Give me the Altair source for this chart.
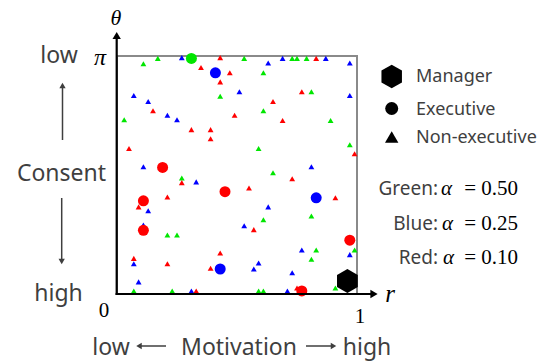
import math
import altair as alt
import pandas as pd

# ---- agents: r = motivation (0..1), theta = consent angle (0..pi) ----
# Non-executives (triangles)
green_tri_r = [0.11, 0.17, 0.43, 0.03, 0.53, 0.73, 0.75, 0.79, 0.61, 0.81,
               0.61, 0.89, 0.59, 0.97, 0.65, 0.27, 0.21, 0.25, 0.07, 0.23,
               0.61, 0.81, 0.99, 0.83, 0.81, 0.91, 0.59, 0.61]
green_tri_theta = [3.04, 3.11, 2.61, 2.30, 3.11, 3.11, 3.11, 3.11, 2.92, 2.67,
                   2.42, 2.29, 1.92, 1.97, 1.60, 1.53, 0.78, 0.78, 0.04, 0.04,
                   0.98, 1.03, 0.58, 0.58, 0.46, 0.08, 0.04, 0.04]

blue_tri_r = [0.27, 0.07, 0.13, 0.21, 0.25, 0.11, 0.63, 0.69, 0.87, 0.97,
              0.51, 0.97, 0.81, 0.33, 0.13, 0.11, 0.07, 0.09, 0.31, 0.63,
              0.53, 0.77, 0.97, 0.59, 0.57, 0.73, 0.71]
blue_tri_theta = [3.12, 2.62, 2.54, 2.36, 2.30, 1.68, 3.05, 3.11, 3.11, 3.05,
                  2.67, 2.62, 1.68, 1.48, 1.10, 0.91, 0.40, 0.16, 0.04, 1.15,
                  0.90, 0.58, 0.52, 0.41, 0.33, 0.28, 0.04]

red_tri_r = [0.43, 0.35, 0.47, 0.43, 0.15, 0.49, 0.31, 0.39, 0.39, 0.05,
             0.83, 0.77, 0.65, 0.69, 0.99, 0.27, 0.21, 0.09, 0.07, 0.21,
             0.43, 0.39, 0.33, 0.73, 0.55, 0.91, 0.57, 0.75]
red_tri_theta = [3.12, 2.99, 2.92, 2.80, 2.42, 2.36, 2.17, 2.17, 2.05, 1.92,
                 3.11, 2.67, 2.54, 2.29, 1.85, 1.47, 1.28, 1.15, 0.47, 0.40,
                 0.54, 0.34, 0.04, 1.52, 1.40, 1.27, 0.85, 0.08]

# Executives (circles)
green_exe_r = [0.31]
green_exe_theta = [3.11]
blue_exe_r = [0.41, 0.43, 0.83]
blue_exe_theta = [2.92, 0.33, 1.27]
red_exe_r = [0.19, 0.45, 0.11, 0.11, 0.97, 0.77]
red_exe_theta = [1.67, 1.35, 1.23, 0.84, 0.71, 0.04]

# Manager (hexagon)
manager_r = [0.96]
manager_theta = [0.17]

GROUPS = ["Green", "Blue", "Red"]
GROUP_COLORS = ["#00e600", "#0000ff", "#ff0000"]
TEXT = "#3f3f3f"
SANS = "Noto Sans"
SERIF = "Liberation Serif"
HEXAGON = "M0,-1L0.866,-0.5L0.866,0.5L0,1L-0.866,0.5L-0.866,-0.5Z"

# plot-area offset inside the page
LEFT, TOP = 117, 56
W, H = 240, 238


def frame(role, parts):
    rows = []
    for group, rs, ts in parts:
        for r, t in zip(rs, ts):
            rows.append({"r": r, "theta": t, "group": group, "role": role})
    return pd.DataFrame(rows)


tri_df = frame("Non-executive", [("Green", green_tri_r, green_tri_theta),
                                 ("Blue", blue_tri_r, blue_tri_theta),
                                 ("Red", red_tri_r, red_tri_theta)])
exe_df = frame("Executive", [("Green", green_exe_r, green_exe_theta),
                             ("Blue", blue_exe_r, blue_exe_theta),
                             ("Red", red_exe_r, red_exe_theta)])
mgr_df = frame("Manager", [("Black", manager_r, manager_theta)])

x_enc = alt.X("r:Q", scale=alt.Scale(domain=[0, 1], nice=False, zero=False), axis=None)
y_enc = alt.Y("theta:Q", scale=alt.Scale(domain=[0, math.pi], nice=False, zero=False), axis=None)
c_enc = alt.Color("group:N", scale=alt.Scale(domain=GROUPS, range=GROUP_COLORS), legend=None)

triangles = alt.Chart(tri_df).mark_point(
    shape="triangle-up", filled=True, size=34, opacity=1, strokeWidth=0
).encode(x=x_enc, y=y_enc, color=c_enc)

circles = alt.Chart(exe_df).mark_circle(size=121, opacity=1).encode(
    x=x_enc, y=y_enc, color=c_enc)

manager = alt.Chart(mgr_df).mark_point(
    shape=HEXAGON, filled=True, size=576, opacity=1, color="black", strokeWidth=0
).encode(x=x_enc, y=y_enc)


def one():
    return alt.Chart(alt.Data(values=[{}]))


def at(px, py):
    # page pixel -> plot-area pixel
    return dict(x=alt.value(px - LEFT), y=alt.value(py - TOP))


def label(txt, px, py, size=22, font=SANS, style="normal", align="center",
          baseline="alphabetic", color=TEXT):
    return one().mark_text(text=txt, font=font, fontSize=size, fontStyle=style,
                           align=align, baseline=baseline, color=color).encode(**at(px, py))


def line(x1, y1, x2, y2, color=TEXT, width=1.5):
    return one().mark_rule(color=color, strokeWidth=width).encode(
        x=alt.value(x1 - LEFT), y=alt.value(y1 - TOP),
        x2=alt.value(x2 - LEFT), y2=alt.value(y2 - TOP))


def head(shape, px, py, size, color=TEXT):
    return one().mark_point(shape=shape, filled=True, size=size, opacity=1,
                            color=color, strokeWidth=0).encode(**at(px, py))


decor = [
    # coordinate axes with arrows
    line(116.7, 295, 116.7, 36, color="black", width=2.2),
    head("triangle-up", 116.7, 35.5, 70, color="black"),
    line(115.6, 294, 372, 294, color="black", width=2.2),
    head("triangle-right", 374, 294, 70, color="black"),
    label("θ", 116, 25, size=22, font=SERIF, style="italic", color="black"),
    label("π", 100, 65, size=24, font=SERIF, style="italic", color="black"),
    label("r", 390, 301.5, size=25, font=SERIF, style="italic", color="black"),
    label("0", 104, 317, size=21, font=SERIF, color="black"),
    label("1", 360, 323, size=21, font=SERIF, color="black"),
    # consent (vertical) description
    label("low", 59, 63, size=23),
    line(62.5, 140, 62.5, 88),
    head("triangle-up", 62.5, 85.5, 40),
    label("Consent", 61.5, 181, size=23),
    line(61.7, 198, 61.7, 259),
    head("triangle-down", 61.7, 261.5, 40),
    label("high", 58.5, 300.5, size=23),
    # motivation (horizontal) description
    label("low", 111, 355, size=23),
    line(166, 346, 141, 346),
    head("triangle-left", 139, 346, 40),
    label("Motivation", 239, 355, size=23),
    line(306, 346, 331, 346),
    head("triangle-right", 333.5, 346, 40),
    label("high", 367, 355, size=23),
    # legend: roles
    head(HEXAGON, 391.7, 76.5, 560, color="black"),
    label("Manager", 416, 77, size=18, align="left", baseline="middle"),
    head("circle", 391.7, 108.5, 169, color="black"),
    label("Executive", 416, 110, size=18, align="left", baseline="middle"),
    head("triangle-up", 391.7, 137, 180, color="black"),
    label("Non-executive", 416, 138, size=18, align="left", baseline="middle"),
    # legend: colours
    label("Green:", 438, 195, size=19, align="right"),
    label("α", 441, 195, size=21, font=SERIF, style="italic", align="left", color="black"),
    label("= 0.50", 518, 195, size=21, font=SERIF, align="right", color="black"),
    label("Blue:", 438, 230, size=19, align="right"),
    label("α", 442, 230, size=21, font=SERIF, style="italic", align="left", color="black"),
    label("= 0.25", 518, 230, size=21, font=SERIF, align="right", color="black"),
    label("Red:", 438, 264, size=19, align="right"),
    label("α", 443, 264, size=21, font=SERIF, style="italic", align="left", color="black"),
    label("= 0.10", 518, 264, size=21, font=SERIF, align="right", color="black"),
]

chart = alt.layer(triangles, circles, manager, *decor).properties(
    width=W, height=H,
    padding={"left": LEFT, "top": TOP, "right": 558 - LEFT - W, "bottom": 364 - TOP - H},
    autosize=alt.AutoSizeParams(type="none"),
    background="white",
).configure_view(stroke="#8a8a8a", strokeWidth=2)

chart.save("out.html", embed_options={"renderer": "svg", "actions": False})
